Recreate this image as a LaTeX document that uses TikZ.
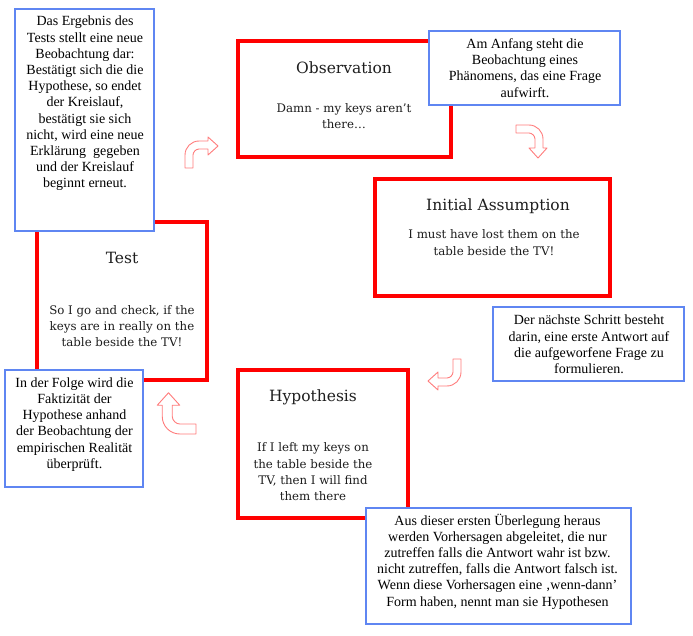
\documentclass[tikz,border=0pt]{standalone}
\usepackage{fontspec}
\setmainfont{Liberation Serif}
\newfontfamily\cyclefont{DejaVu Serif}
\usepackage{tikz}
\usetikzlibrary{positioning,calc}
\definecolor{StepRed}{HTML}{FF0000}
\definecolor{StepText}{HTML}{1E1E1E}
\definecolor{NoteBlue}{HTML}{5F86F2}
\definecolor{TurnRed}{HTML}{FF7C7C}
\tikzset{
  stepbox/.style={draw=StepRed,line width=3.5pt,fill=white,inner sep=0pt},
  notebox/.style={draw=NoteBlue,line width=1.2pt,fill=white,inner sep=0pt},
  notetext/.style={align=center,inner sep=0pt,font=\fontsize{14}{16.2}\selectfont},
  steptitle/.style={inner sep=0pt,text=StepText,font=\cyclefont\fontsize{15.5}{18}\selectfont},
  steptext/.style={align=center,inner sep=0pt,text=StepText,font=\cyclefont\fontsize{11.8}{16.3}\selectfont},
  turnshape/.style={draw=TurnRed,fill=white,line width=0.9pt,line join=round},
  turnarrow/.pic={
    \path[turnshape] (0,0) -- (0,-13) .. controls (0,-20.7) and (6.3,-27) .. (14,-27)
      -- (23,-27) -- (23,-31) -- (33,-22) -- (23,-13) -- (23,-19) -- (14,-19)
      .. controls (10.7,-19) and (8,-15.7) .. (8,-13) -- (8,0) -- cycle;
  }
}
\begin{document}
\begin{tikzpicture}[x=1pt,y=-1pt]
\useasboundingbox (0,0) rectangle (693,636);
% the four steps of the cycle
\node[stepbox,minimum width=170pt,minimum height=158pt] (test) at (122,301) {};
\node[stepbox,minimum width=213pt,minimum height=116pt] (obs) at (344.5,99) {};
\node[stepbox,minimum width=235pt,minimum height=117pt] (assum) at (492.5,237.5) {};
\node[stepbox,minimum width=170pt,minimum height=148pt] (hypo) at (323,444) {};
\node[steptitle] (testtitle) at (122,258) {Test};
\node[steptext] (testbody) at (122,326) {So I go and check, if the\\keys are in really on the\\table beside the TV!};
\node[steptitle] (obstitle) at (344,68) {Observation};
\node[steptext] (obsbody) at (344,116) {Damn - my keys aren’t\\there…};
\node[steptitle] (assumtitle) at (498,206) {Initial Assumption};
\node[steptext] (assumbody) at (494,242.5) {I must have lost them on the\\table beside the TV!};
\node[steptitle] (hypotitle) at (313,397) {Hypothesis};
\node[steptext] (hypobody) at (313,472) {If I left my keys on\\the table beside the\\TV, then I will find\\them there};
% turning arrows
\pic (turntest) at (185,168) {turnarrow};
\pic[rotate=-90] (turnobs) at (516,125) {turnarrow};
\pic[rotate=180] (turnassum) at (461,359) {turnarrow};
\pic[rotate=90,scale=1.25] (turnhypo) at (196,434) {turnarrow};
% notes
\node[notebox,minimum width=139pt,minimum height=222pt] (resultnote) at (84.5,120) {};
\node[notetext] (resulttext) at (85,103.5) {Das Ergebnis des\\Tests stellt eine neue\\Beobachtung dar:\\Bestätigt sich die die\\Hypothese, so endet\\der Kreislauf,\\bestätigt sie sich\\nicht, wird eine neue\\Erklärung~ gegeben\\und der Kreislauf\\beginnt erneut.};
\node[notebox,minimum width=138pt,minimum height=117pt] (testnote) at (74,428.5) {};
\node[notetext] (testtext) at (74.5,424.5) {In der Folge wird die\\Faktizität der\\Hypothese anhand\\der Beobachtung der\\empirischen Realität\\überprüft.};
\node[notebox,minimum width=191pt,minimum height=74pt] (obsnote) at (524.5,68) {};
\node[notetext] (obstext) at (525,68) {Am Anfang steht die\\Beobachtung eines\\Phänomens, das eine Frage\\aufwirft.};
\node[notebox,minimum width=191pt,minimum height=74pt] (assumnote) at (588.5,344) {};
\node[notetext] (assumtext) at (589,344.5) {Der nächste Schritt besteht\\darin, eine erste Antwort auf\\die aufgeworfene Frage zu\\formulieren.};
\node[notebox,minimum width=265pt,minimum height=116pt] (hyponote) at (498.5,566) {};
\node[notetext] (hypotext) at (497.5,561.5) {Aus dieser ersten Überlegung heraus\\werden Vorhersagen abgeleitet, die nur\\zutreffen falls die Antwort wahr ist bzw.\\nicht zutreffen, falls die Antwort falsch ist.\\Wenn diese Vorhersagen eine ‚wenn-dann’\\Form haben, nennt man sie Hypothesen};
\end{tikzpicture}
\end{document}
